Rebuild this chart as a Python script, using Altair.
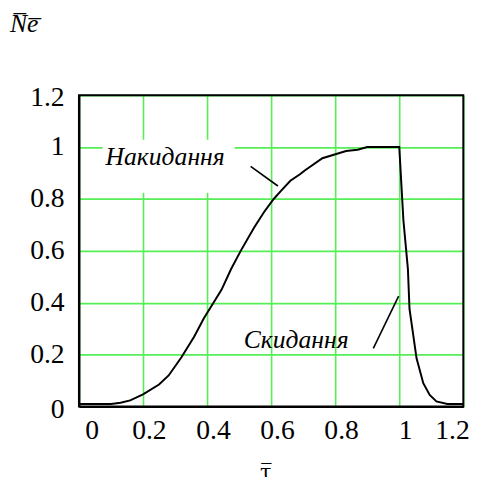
import altair as alt
import pandas as pd

# main curve: relative time tau vs relative Ne
tau = [0.0, 0.05, 0.1, 0.13, 0.16, 0.2, 0.25, 0.28, 0.32, 0.36, 0.39, 0.42, 0.445,
       0.475, 0.505, 0.547, 0.578, 0.608, 0.63, 0.66, 0.69, 0.705, 0.76, 0.834,
       0.87, 0.9, 1.0, 1.013, 1.027, 1.032, 1.054, 1.075, 1.095, 1.116, 1.15, 1.2]
ne = [0.01, 0.01, 0.01, 0.015, 0.024, 0.047, 0.085, 0.12, 0.19, 0.27, 0.34, 0.40, 0.45,
      0.53, 0.60, 0.69, 0.75, 0.80, 0.83, 0.87, 0.895, 0.91, 0.957, 0.985,
      0.99, 1.0, 1.0, 0.717, 0.53, 0.376, 0.186, 0.09, 0.045, 0.02, 0.01, 0.01]

tick_values = [0, 0.2, 0.4, 0.6, 0.8, 1.0, 1.2]
axis_range = [0, 1.2]

# annotations (data coordinates)
ann_text = ["Накидання", "Скидання"]
ann_x = [0.269, 0.678]
ann_y = [0.932, 0.227]
lead_x = [0.536, 0.919]
lead_y = [0.926, 0.224]
lead_x2 = [0.621, 0.998]
lead_y2 = [0.850, 0.426]
# white background behind the first label
box_x = [0.074]
box_x2 = [0.486]
box_y = [0.824]
box_y2 = [1.028]

curve = pd.DataFrame({"tau": tau, "ne": ne})
ann = pd.DataFrame({"t": ann_text, "x": ann_x, "y": ann_y})
lead = pd.DataFrame({"x": lead_x, "y": lead_y, "x2": lead_x2, "y2": lead_y2})
box = pd.DataFrame({"x": box_x, "x2": box_x2, "y": box_y, "y2": box_y2})
frame = pd.DataFrame({"x": [axis_range[0]], "x2": [axis_range[1]],
                      "y": [axis_range[0]], "y2": [axis_range[1]]})

xs = alt.Scale(domain=axis_range, nice=False, zero=False)
ys = alt.Scale(domain=axis_range, nice=False, zero=False)

GRID = "#55ef55"

x_axis = alt.Axis(values=tick_values, format="~g", grid=True, ticks=False,
                  gridColor=GRID, gridWidth=1.6, gridOpacity=1,
                  labelPadding=10, labelOffset=6, labelFontSize=28,
                  labelFont="Liberation Serif", labelColor="black",
                  title="τ\u0305", titleFont="DejaVu Serif", titleFontSize=21,
                  titleFontWeight="normal", titleColor="black",
                  titleX=189, titleY=73, titleBaseline="alphabetic",
                  domainColor="black", domainWidth=2)
y_axis = alt.Axis(values=tick_values, format="~g", grid=True, ticks=False,
                  gridColor=GRID, gridWidth=1.6, gridOpacity=1,
                  labelPadding=15, labelFontSize=28,
                  labelOffset={"condition": {"test": "datum.value <= 0 || datum.value >= 1.2", "value": 3}, "value": 0},
                  labelFont="Liberation Serif", labelColor="black", title=None,
                  domainColor="black", domainWidth=2)

bg = alt.Chart(box).mark_rect(color="white").encode(
    x=alt.X("x:Q", scale=xs, axis=x_axis), x2="x2:Q",
    y=alt.Y("y:Q", scale=ys, axis=y_axis), y2="y2:Q")

border = alt.Chart(frame).mark_rect(fill=None, fillOpacity=0, stroke="black",
                                    strokeWidth=2).encode(
    x=alt.X("x:Q", scale=xs), x2="x2:Q", y=alt.Y("y:Q", scale=ys), y2="y2:Q")

line = alt.Chart(curve).mark_line(color="black", strokeWidth=2).encode(
    x=alt.X("tau:Q", scale=xs), y=alt.Y("ne:Q", scale=ys))

leaders = alt.Chart(lead).mark_rule(color="black", strokeWidth=1.6).encode(
    x=alt.X("x:Q", scale=xs), y=alt.Y("y:Q", scale=ys), x2="x2:Q", y2="y2:Q")

labels = alt.Chart(ann).mark_text(font="Liberation Serif", fontSize=26,
                                  fontStyle="italic", align="center",
                                  baseline="alphabetic", color="black").encode(
    x=alt.X("x:Q", scale=xs), y=alt.Y("y:Q", scale=ys), text="t:N")

chart = alt.layer(bg, border, line, leaders, labels).properties(
    width=390, height=316,
    background="white",
    title=alt.TitleParams("N\u0305e\u0305", anchor="start", frame="group",
                          dx=-70, offset=27,
                          baseline="alphabetic", font="Liberation Serif",
                          fontSize=26, fontStyle="italic", fontWeight="normal",
                          color="black"),
    autosize=alt.AutoSizeParams(type="none"),
    padding={"left": 72, "top": 85, "right": 22, "bottom": 68},
).configure_view(stroke=None)

chart.save("out.html", embed_options={"renderer": "svg", "actions": False})
